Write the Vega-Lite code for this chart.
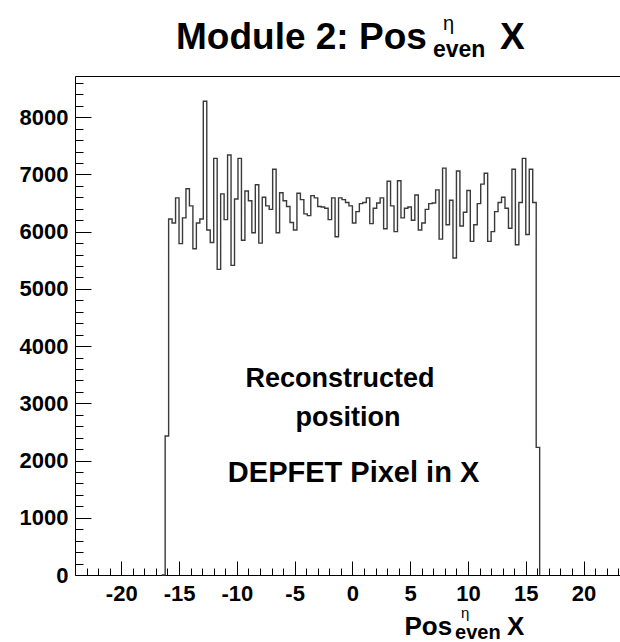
{
  "$schema": "https://vega.github.io/schema/vega-lite/v6.json",
  "width": 545,
  "height": 499,
  "autosize": {"type": "none"},
  "padding": {"left": 75, "top": 76, "right": 0, "bottom": 67},
  "background": "white",
  "config": {
    "view": {"stroke": null},
    "axis": {"grid": false, "domainColor": "black", "tickColor": "black", "labelColor": "black", "labelFont": "Liberation Sans", "labelFontWeight": "bold", "labelFontSize": 22, "title": null},
    "text": {"font": "Liberation Sans", "fontWeight": "bold", "color": "black"}
  },
  "resolve": {"axis": {"x": "independent", "y": "independent"}},
  "datasets": {
    "hist": [
      {"x": -16.5, "y": 0},
      {"x": -16.2, "y": 2430}, {"x": -15.9, "y": 6220}, {"x": -15.6, "y": 6150}, {"x": -15.3, "y": 6590}, {"x": -15.0, "y": 5790},
      {"x": -14.7, "y": 6240}, {"x": -14.4, "y": 6750}, {"x": -14.1, "y": 6450}, {"x": -13.8, "y": 5700}, {"x": -13.5, "y": 6150},
      {"x": -13.2, "y": 6220}, {"x": -12.9, "y": 8280}, {"x": -12.6, "y": 6030}, {"x": -12.3, "y": 5810}, {"x": -12.0, "y": 7280},
      {"x": -11.7, "y": 5340}, {"x": -11.4, "y": 6660}, {"x": -11.1, "y": 6210}, {"x": -10.8, "y": 7340}, {"x": -10.5, "y": 5410},
      {"x": -10.2, "y": 6570}, {"x": -9.9, "y": 7280}, {"x": -9.6, "y": 5850}, {"x": -9.3, "y": 6710}, {"x": -9.0, "y": 6540},
      {"x": -8.7, "y": 5980}, {"x": -8.4, "y": 6820}, {"x": -8.1, "y": 5800}, {"x": -7.8, "y": 6600}, {"x": -7.5, "y": 6450},
      {"x": -7.2, "y": 6390}, {"x": -6.9, "y": 7090}, {"x": -6.6, "y": 5980}, {"x": -6.3, "y": 6680}, {"x": -6.0, "y": 6540},
      {"x": -5.7, "y": 6440}, {"x": -5.4, "y": 6160}, {"x": -5.1, "y": 6030}, {"x": -4.8, "y": 6670}, {"x": -4.5, "y": 6560},
      {"x": -4.2, "y": 6310}, {"x": -3.9, "y": 6280}, {"x": -3.6, "y": 6630}, {"x": -3.3, "y": 6590}, {"x": -3.0, "y": 6440},
      {"x": -2.7, "y": 6430}, {"x": -2.4, "y": 6410}, {"x": -2.1, "y": 6210}, {"x": -1.8, "y": 6590}, {"x": -1.5, "y": 5910},
      {"x": -1.2, "y": 6590}, {"x": -0.9, "y": 6560}, {"x": -0.6, "y": 6510}, {"x": -0.3, "y": 6450}, {"x": 0.0, "y": 6150},
      {"x": 0.3, "y": 6350}, {"x": 0.6, "y": 6490}, {"x": 0.9, "y": 6510}, {"x": 1.2, "y": 6590}, {"x": 1.5, "y": 6140},
      {"x": 1.8, "y": 6410}, {"x": 2.1, "y": 6500}, {"x": 2.4, "y": 6590}, {"x": 2.7, "y": 6050}, {"x": 3.0, "y": 6880},
      {"x": 3.3, "y": 6450}, {"x": 3.6, "y": 6000}, {"x": 3.9, "y": 6890}, {"x": 4.2, "y": 6240}, {"x": 4.5, "y": 6410},
      {"x": 4.8, "y": 6430}, {"x": 5.1, "y": 6200}, {"x": 5.4, "y": 6640}, {"x": 5.7, "y": 6030}, {"x": 6.0, "y": 6150},
      {"x": 6.3, "y": 6390}, {"x": 6.6, "y": 6490}, {"x": 6.9, "y": 6500}, {"x": 7.2, "y": 6730}, {"x": 7.5, "y": 5870},
      {"x": 7.8, "y": 7110}, {"x": 8.1, "y": 6120}, {"x": 8.4, "y": 6550}, {"x": 8.7, "y": 5540}, {"x": 9.0, "y": 7060},
      {"x": 9.3, "y": 6100}, {"x": 9.6, "y": 6340}, {"x": 9.9, "y": 6720}, {"x": 10.2, "y": 5830}, {"x": 10.5, "y": 6120},
      {"x": 10.8, "y": 6490}, {"x": 11.1, "y": 6830}, {"x": 11.4, "y": 7020}, {"x": 11.7, "y": 5830}, {"x": 12.0, "y": 6000},
      {"x": 12.3, "y": 6350}, {"x": 12.6, "y": 6510}, {"x": 12.9, "y": 6600}, {"x": 13.2, "y": 6410}, {"x": 13.5, "y": 6060},
      {"x": 13.8, "y": 7090}, {"x": 14.1, "y": 5770}, {"x": 14.4, "y": 6510}, {"x": 14.7, "y": 7280}, {"x": 15.0, "y": 5950},
      {"x": 15.3, "y": 7090}, {"x": 15.6, "y": 6510}, {"x": 15.9, "y": 2230},
      {"x": 16.2, "y": 0}
    ],
    "notes": [
      {"t": "Reconstructed", "x": -1.07, "y": 3427},
      {"t": "position", "x": -0.38, "y": 2745}
    ],
    "notes2": [
      {"t": "DEPFET Pixel in X", "x": 0.1, "y": 1783}
    ],
    "titleMain": [
      {"t": "Module 2: Pos", "x": -15.26, "y": 9196},
      {"t": "X", "x": 12.77, "y": 9196}
    ],
    "titleSup": [{"t": "η", "x": 7.84, "y": 9528}],
    "titleSub": [{"t": "even", "x": 6.97, "y": 9056}],
    "axMain": [
      {"t": "Pos", "x": 4.5, "y": -1049},
      {"t": "X", "x": 13.37, "y": -1049}
    ],
    "axSup": [{"t": "η", "x": 9.4, "y": -760}],
    "axSub": [{"t": "even", "x": 8.88, "y": -1119}]
  },
  "layer": [
    {
      "data": {"name": "hist"},
      "mark": {"type": "line", "interpolate": "step-after", "stroke": "#3a3a3a", "strokeWidth": 1.4},
      "encoding": {
        "x": {"field": "x", "type": "quantitative", "scale": {"domain": [-24, 23.15], "nice": false, "zero": false},
              "axis": {"orient": "bottom", "values": [-20, -15, -10, -5, 0, 5, 10, 15, 20], "ticks": false, "labelPadding": 8, "labelFlush": false, "labelOverlap": false, "labelExpr": "'' + datum.value", "domainWidth": 1}},
        "y": {"field": "y", "type": "quantitative", "scale": {"domain": [0, 8720], "nice": false},
              "axis": {"orient": "left", "values": [0, 1000, 2000, 3000, 4000, 5000, 6000, 7000, 8000], "ticks": false, "labelPadding": 7, "labelFlush": false, "labelOverlap": false, "labelExpr": "'' + datum.value", "domainWidth": 1}}
      }
    },
    {
      "data": {"name": "hist"},
      "mark": {"type": "point", "opacity": 0},
      "encoding": {
        "x": {"field": "x", "type": "quantitative", "scale": {"domain": [-24, 23.15], "nice": false, "zero": false},
              "axis": {"orient": "bottom", "values": [-20, -15, -10, -5, 0, 5, 10, 15, 20], "labels": false, "domain": false, "tickSize": -14}},
        "y": {"field": "y", "type": "quantitative", "scale": {"domain": [0, 8720], "nice": false},
              "axis": {"orient": "left", "values": [0, 1000, 2000, 3000, 4000, 5000, 6000, 7000, 8000], "labels": false, "domain": false, "tickSize": -16}}
      }
    },
    {
      "data": {"name": "hist"},
      "mark": {"type": "point", "opacity": 0},
      "encoding": {
        "x": {"field": "x", "type": "quantitative", "scale": {"domain": [-24, 23.15], "nice": false, "zero": false},
              "axis": {"orient": "bottom", "values": [-23, -22, -21, -19, -18, -17, -16, -14, -13, -12, -11, -9, -8, -7, -6, -4, -3, -2, -1, 1, 2, 3, 4, 6, 7, 8, 9, 11, 12, 13, 14, 16, 17, 18, 19, 21, 22, 23], "labels": false, "domain": false, "tickSize": -7}},
        "y": {"field": "y", "type": "quantitative", "scale": {"domain": [0, 8720], "nice": false},
              "axis": {"orient": "left", "values": [200, 400, 600, 800, 1200, 1400, 1600, 1800, 2200, 2400, 2600, 2800, 3200, 3400, 3600, 3800, 4200, 4400, 4600, 4800, 5200, 5400, 5600, 5800, 6200, 6400, 6600, 6800, 7200, 7400, 7600, 7800, 8200, 8400, 8600], "labels": false, "domain": false, "tickSize": -8}}
      }
    },
    {
      "data": {"name": "notes"},
      "mark": {"type": "text", "fontSize": 27, "align": "center", "baseline": "middle"},
      "encoding": {
        "x": {"field": "x", "type": "quantitative", "scale": {"domain": [-24, 23.15], "nice": false, "zero": false},
              "axis": {"orient": "top", "labels": false, "ticks": false, "domain": true, "domainWidth": 1}},
        "y": {"field": "y", "type": "quantitative", "scale": {"domain": [0, 8720], "nice": false}, "axis": null},
        "text": {"field": "t"}
      }
    },
    {
      "data": {"name": "notes2"},
      "mark": {"type": "text", "fontSize": 29, "align": "center", "baseline": "middle"},
      "encoding": {
        "x": {"field": "x", "type": "quantitative", "scale": {"domain": [-24, 23.15], "nice": false, "zero": false}, "axis": null},
        "y": {"field": "y", "type": "quantitative", "scale": {"domain": [0, 8720], "nice": false}, "axis": null},
        "text": {"field": "t"}
      }
    },
    {
      "data": {"name": "titleMain"},
      "mark": {"type": "text", "fontSize": 37, "align": "left", "baseline": "alphabetic"},
      "encoding": {
        "x": {"field": "x", "type": "quantitative", "scale": {"domain": [-24, 23.15], "nice": false, "zero": false}, "axis": null},
        "y": {"field": "y", "type": "quantitative", "scale": {"domain": [0, 8720], "nice": false}, "axis": null},
        "text": {"field": "t"}
      }
    },
    {
      "data": {"name": "titleSup"},
      "mark": {"type": "text", "fontSize": 20, "fontWeight": "normal", "align": "left", "baseline": "alphabetic"},
      "encoding": {
        "x": {"field": "x", "type": "quantitative", "scale": {"domain": [-24, 23.15], "nice": false, "zero": false}, "axis": null},
        "y": {"field": "y", "type": "quantitative", "scale": {"domain": [0, 8720], "nice": false}, "axis": null},
        "text": {"field": "t"}
      }
    },
    {
      "data": {"name": "titleSub"},
      "mark": {"type": "text", "fontSize": 23, "align": "left", "baseline": "alphabetic"},
      "encoding": {
        "x": {"field": "x", "type": "quantitative", "scale": {"domain": [-24, 23.15], "nice": false, "zero": false}, "axis": null},
        "y": {"field": "y", "type": "quantitative", "scale": {"domain": [0, 8720], "nice": false}, "axis": null},
        "text": {"field": "t"}
      }
    },
    {
      "data": {"name": "axMain"},
      "mark": {"type": "text", "fontSize": 26, "align": "left", "baseline": "alphabetic"},
      "encoding": {
        "x": {"field": "x", "type": "quantitative", "scale": {"domain": [-24, 23.15], "nice": false, "zero": false}, "axis": null},
        "y": {"field": "y", "type": "quantitative", "scale": {"domain": [0, 8720], "nice": false}, "axis": null},
        "text": {"field": "t"}
      }
    },
    {
      "data": {"name": "axSup"},
      "mark": {"type": "text", "fontSize": 15, "fontWeight": "normal", "align": "left", "baseline": "alphabetic"},
      "encoding": {
        "x": {"field": "x", "type": "quantitative", "scale": {"domain": [-24, 23.15], "nice": false, "zero": false}, "axis": null},
        "y": {"field": "y", "type": "quantitative", "scale": {"domain": [0, 8720], "nice": false}, "axis": null},
        "text": {"field": "t"}
      }
    },
    {
      "data": {"name": "axSub"},
      "mark": {"type": "text", "fontSize": 20, "align": "left", "baseline": "alphabetic"},
      "encoding": {
        "x": {"field": "x", "type": "quantitative", "scale": {"domain": [-24, 23.15], "nice": false, "zero": false}, "axis": null},
        "y": {"field": "y", "type": "quantitative", "scale": {"domain": [0, 8720], "nice": false}, "axis": null},
        "text": {"field": "t"}
      }
    }
  ]
}
